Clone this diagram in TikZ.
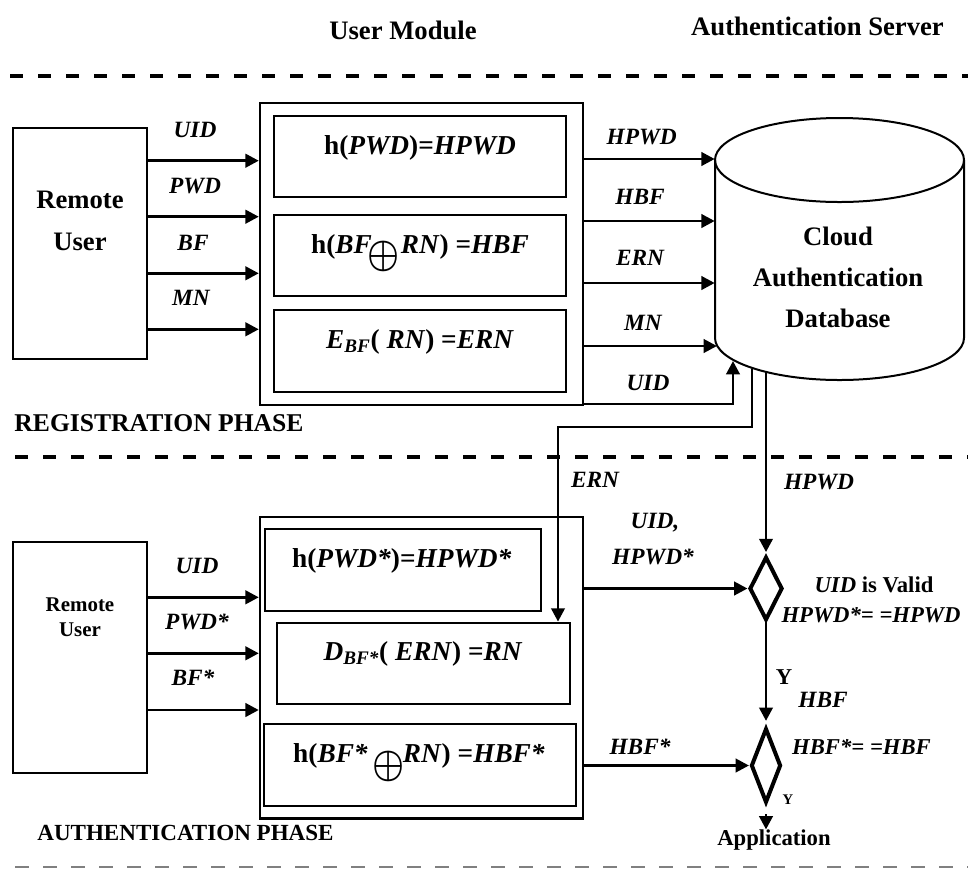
\documentclass[tikz,border=0pt]{standalone}
\usepackage{fontspec}
\setmainfont{Liberation Serif}
\usepackage{graphicx}
\usetikzlibrary{arrows.meta,shapes.geometric}

\newcommand{\myxor}{\hspace{-0.18em}\raisebox{-0.5em}{\scalebox{1.3}[1.45]{\boldmath$\oplus$}}\hspace{-0.06em}}

\tikzset{
  box/.style={draw, line width=1.5pt, inner sep=0pt},
  outerbox/.style={draw, line width=1.8pt, inner sep=0pt},
  conn/.style={line width=2.2pt, -{Triangle[length=10pt,width=10pt]}},
  bigt/.style={font=\fontsize{20}{30.75}\selectfont\bfseries, inner sep=0pt, align=center},
  form/.style={font=\fontsize{20.5}{24}\selectfont\bfseries, inner sep=0pt, anchor=base},
  lbl/.style={font=\fontsize{17.5}{21}\selectfont\bfseries\itshape, inner sep=0pt},
  side/.style={font=\fontsize{17}{20}\selectfont\bfseries, inner sep=0pt},
  dec/.style={diamond, draw, line width=3pt, inner sep=0pt},
  phase/.style={font=\fontsize{19.2}{22}\selectfont\bfseries, inner sep=0pt},
  sepline/.style={line width=3.2pt, dash pattern=on 10pt off 11pt},
}

\begin{document}
\begin{tikzpicture}[x=0.75pt,y=-0.75pt]
\useasboundingbox (0,0) rectangle (968,869);

% titles and separators
\node[bigt] (tUM) at (403,30) {User Module};
\node[bigt] (tAS) at (817.5,26) {Authentication Server};
\draw[sepline] (10,76) -- (968,76);
\draw[sepline] (15,457) -- (968,457);
\draw[line width=1.5pt, gray, dash pattern=on 10.5pt off 10.5pt] (15,867) -- (968,867);

% ---------------- registration phase ----------------
\node[box, minimum width=100.5pt, minimum height=173.25pt] (ru1) at (80,243.5) {};
\node[font=\fontsize{20}{31.5}\selectfont\bfseries, align=center, inner sep=0pt] (ru1t) at (80,221) {Remote\\User};

\node[outerbox, minimum width=242.25pt, minimum height=226.5pt] (mr) at (421.5,254) {};
\node[box, minimum width=219.6pt, minimum height=60.75pt] (mr1) at (420,156.2) {};
\node[box, minimum width=219.6pt, minimum height=60.75pt] (mr2) at (420,255.5) {};
\node[box, minimum width=219.6pt, minimum height=61.3pt] (mr3) at (420,350.8) {};
\node[form] (mr1t) at (420,154) {h(\textit{PWD})=\textit{HPWD}};
\node[form] (mr2t) at (420,253) {h(\textit{BF}\myxor\hspace{0.12em}\textit{RN}) =\textit{HBF}};
\node[form] (mr3t) at (420,348) {\textit{E}\textsubscript{\textit{BF}}( \textit{RN}) =\textit{ERN}};

\draw[conn] (ru1.east |- 0,160.7) -- (mr.west |- 0,160.7);
\draw[conn] (ru1.east |- 0,216.7) -- (mr.west |- 0,216.7);
\draw[conn] (ru1.east |- 0,273.3) -- (mr.west |- 0,273.3);
\draw[conn] (ru1.east |- 0,329.3) -- (mr.west |- 0,329.3);
\node[lbl] (lUID1) at (195,130) {UID};
\node[lbl] (lPWD1) at (195,186) {PWD};
\node[lbl] (lBF1) at (193,243) {BF};
\node[lbl] (lMN1) at (191,298) {MN};

% cylinder (database)
\node[inner sep=0pt, minimum width=186.75pt, minimum height=196.5pt] (db) at (839.5,249) {};
\draw[line width=1.5pt] (839.5,160) ellipse [x radius=124.5, y radius=42];
\draw[line width=1.5pt] (715,160) -- (715,338) arc[start angle=180, end angle=0, x radius=124.5, y radius=42] -- (964,160);
\node[bigt] (dbt) at (838,277.5) {Cloud\\Authentication\\Database};
\coordinate (dbU) at (733,361);
\coordinate (dbE) at (752,369);
\coordinate (dbH) at (766,373);
\coordinate (ernbend) at (558,427);

\draw[conn] (mr.east |- 0,159) -- (db.west |- 0,159);
\draw[conn] (mr.east |- 0,221) -- (db.west |- 0,221);
\draw[conn] (mr.east |- 0,283) -- (db.west |- 0,283);
\draw[conn] (mr.east |- 0,346) -- (717,346);
\draw[conn] (mr.east |- 0,404) -| (dbU);
\node[lbl] (lHPWD1) at (641.7,136.7) {HPWD};
\node[lbl] (lHBF1) at (640,196.7) {HBF};
\node[lbl] (lERN1) at (640,258) {ERN};
\node[lbl] (lMN2) at (643,323) {MN};
\node[lbl] (lUID2) at (648,383) {UID};

\node[phase] (regp) at (159,423) {REGISTRATION PHASE};

% ---------------- authentication phase ----------------
\node[box, minimum width=100.5pt, minimum height=173.25pt] (ru2) at (80,657.2) {};
\node[font=\fontsize{15.7}{18.75}\selectfont\bfseries, align=center, inner sep=0pt] (ru2t) at (80,617.5) {Remote\\User};

\node[outerbox, minimum width=242.25pt, minimum height=226.2pt] (ma) at (421.5,667.5) {};
\node[box, minimum width=207pt, minimum height=61pt] (ma1) at (402.8,570) {};
\node[box, minimum width=219.9pt, minimum height=61pt] (ma2) at (423.6,663.3) {};
\node[box, minimum width=234pt, minimum height=61.3pt] (ma3) at (420,764.9) {};
\node[form] (ma1t) at (401.8,567.5) {h(\textit{PWD*})=\textit{HPWD*}};
\node[form] (ma2t) at (423,660.5) {\textit{D}\textsubscript{\textit{BF*}}( \textit{ERN}) =\textit{RN}};
\node[form] (ma3t) at (419,762.5) {h(\textit{BF*} \hspace{0.1em}\myxor\textit{RN}) =\textit{HBF*}};

\draw[conn] (ru2.east |- 0,597.3) -- (ma.west |- 0,597.3);
\draw[conn] (ru2.east |- 0,653.3) -- (ma.west |- 0,653.3);
\draw[conn] (ru2.east |- 0,710) -- (ma.west |- 0,710);
\node[lbl] (lUID3) at (197,565.7) {UID};
\node[lbl] (lPWD3) at (197,621.7) {PWD*};
\node[lbl] (lBF3) at (193,677.3) {BF*};

\node[phase, font=\fontsize{17.3}{21}\selectfont\bfseries] (authp) at (185.5,833) {AUTHENTICATION PHASE};

% decisions
\node[dec, minimum width=24.75pt, minimum height=47.6pt] (d1) at (766,588.5) {};
\node[dec, minimum width=22.5pt, minimum height=55.9pt] (d2) at (766,765.5) {};

\draw[conn] (dbE) |- (ernbend) -- (ernbend |- ma2.north);
\node[lbl] (lERN2) at (595,480) {ERN};
\draw[conn, shorten >=2pt] (dbH) -- (d1.north);
\node[lbl] (lHPWD2) at (819,482) {HPWD};

\draw[conn] (ma.east |- d1.west) -- (d1.west);
\node[lbl] (lUID4) at (655,523) {UID,};
\node[lbl] (lHPWD3) at (653,557) {HPWD*};
\node[side] (valid) at (874,585) {\textit{UID} is Valid};
\node[lbl, font=\fontsize{17}{20}\selectfont\bfseries\itshape] (cmp1) at (871,615) {HPWD*= =HPWD};

\draw[conn, shorten >=4pt] (d1.south) -- (d2.north);
\node[side] (y1) at (784,677) {Y};
\node[lbl] (lHBF2) at (823,700) {HBF};

\draw[conn] (ma.east |- d2.west) -- (d2.west);
\node[lbl] (lHBF3) at (640,747) {HBF*};
\node[lbl, font=\fontsize{17}{20}\selectfont\bfseries\itshape] (cmp2) at (861.5,747) {HBF*= =HBF};

\node[font=\fontsize{17}{20}\selectfont\bfseries, inner sep=0pt] (app) at (774,840) {Application};
\draw[conn] ([yshift=-7pt]d2.south) -- (d2.south |- app.north);
\node[font=\fontsize{11}{13}\selectfont\bfseries, inner sep=0pt] (y2) at (788,800) {Y};
\end{tikzpicture}
\end{document}
